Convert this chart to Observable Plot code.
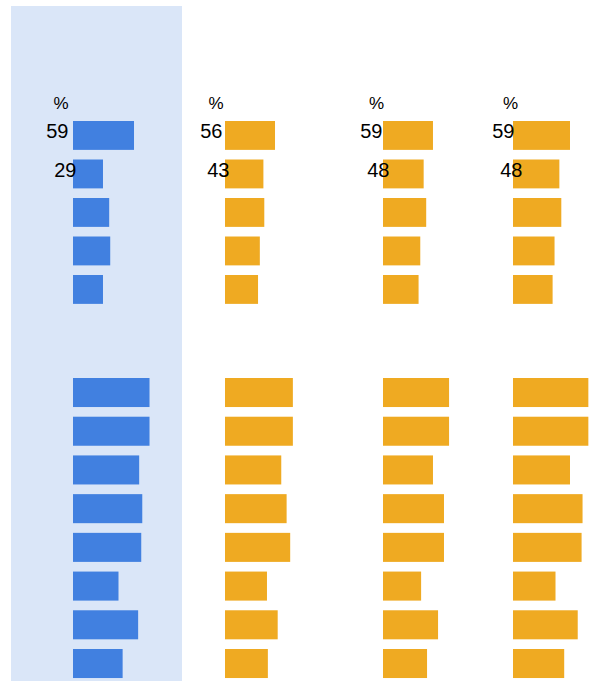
<!DOCTYPE html>
<html>
<head>
<meta charset="utf-8">
<script src="https://cdn.jsdelivr.net/npm/d3@7"></script>
<script src="https://cdn.jsdelivr.net/npm/@observablehq/plot@0.6"></script>
<style>
  html, body { margin: 0; padding: 0; background: #ffffff; overflow: hidden; }
  #chart { position: relative; width: 591px; height: 681px; font-family: "Liberation Sans", Arial, sans-serif; }
  #panel { position: absolute; left: 11px; top: 6px; width: 171px; height: 675px; background: #dae6f8; }
  #chart svg { position: absolute; }
</style>
</head>
<body>
<div id="chart"><div id="panel"></div></div>
<script>
// ---- data ----
const columns = ["Column 1", "Column 2", "Column 3", "Column 4"];
const topRows = ["Top 1", "Top 2", "Top 3", "Top 4", "Top 5"];
const bottomRows = ["Bottom 1", "Bottom 2", "Bottom 3", "Bottom 4", "Bottom 5", "Bottom 6", "Bottom 7", "Bottom 8"];
const unitLabel = "%";

const col1Top = [59, 29, 35, 36, 29];
const col2Top = [56, 43, 44, 39, 37];
const col3Top = [59, 48, 51, 44, 42];
const col4Top = [59, 48, 50, 43, 41];

const col1Bottom = [74, 74, 64, 67, 66, 44, 63, 48];
const col2Bottom = [76, 76, 63, 69, 73, 47, 59, 48];
const col3Bottom = [78, 78, 59, 72, 72, 45, 65, 52];
const col4Bottom = [78, 78, 59, 72, 71, 44, 67, 53];

const topSeries = [col1Top, col2Top, col3Top, col4Top];
const bottomSeries = [col1Bottom, col2Bottom, col3Bottom, col4Bottom];
const labelledRows = 2; // only the first two rows of the top group carry value labels

// ---- layout / style (not data) ----
const BLUE = "#4180e0", ORANGE = "#efaa22";
const layout = [
  {left: 33,  k: 1.034, color: BLUE,   pctDx: -12.5, labelDx: [-5, 3]},
  {left: 185, k: 0.893, color: ORANGE, pctDx: -9.5,  labelDx: [-3, 4]},
  {left: 343, k: 0.847, color: ORANGE, pctDx: -7,    labelDx: [-1, 6]},
  {left: 473, k: 0.966, color: ORANGE, pctDx: -3,    labelDx: [1, 9]}
];
const BAR0 = 40; // bar start inside each svg
const chart = document.getElementById("chart");

function place(svg, left, top) {
  svg.style.left = left + "px";
  svg.style.top = top + "px";
  chart.appendChild(svg);
}

columns.forEach((col, i) => {
  const L = layout[i];
  const width = Math.min(160, 591 - L.left);
  const topData = topRows.map((r, j) => ({column: col, row: r, value: topSeries[i][j]}));
  const bottomData = bottomRows.map((r, j) => ({column: col, row: r, value: bottomSeries[i][j]}));
  const xScale = {axis: null, domain: [0, 100], range: [BAR0, BAR0 + 100 * L.k]};
  const common = {
    width, margin: 0,
    style: {background: "transparent", overflow: "visible", color: "#000", fontFamily: "Liberation Sans, Arial, sans-serif"}
  };

  const topPlot = Plot.plot({
    ...common,
    height: 310,
    x: xScale,
    y: {axis: null, domain: topRows, range: [116.19, 308.69], paddingInner: 0.25, paddingOuter: 0.125, round: false},
    marks: [
      Plot.barX(topData, {x: "value", y: "row", fill: L.color}),
      Plot.text([unitLabel], {x: () => 0, frameAnchor: "top", lineAnchor: "bottom", dy: 108, dx: L.pctDx,
        textAnchor: "middle", fontSize: 17, fill: "#000"}),
      ...d3.range(labelledRows).map(j =>
        Plot.text([topData[j]], {x: () => 0, y: "row", text: d => String(d.value), textAnchor: "end",
          dx: L.labelDx[j], dy: -4, fontSize: 20, fill: "#000"}))
    ]
  });
  place(topPlot, L.left, 0);

  const bottomPlot = Plot.plot({
    ...common,
    height: 381,
    x: xScale,
    y: {axis: null, domain: bottomRows, range: [63.16, 372.87], paddingInner: 0.25, paddingOuter: 0.125, round: false},
    marks: [
      Plot.barX(bottomData, {x: "value", y: "row", fill: L.color})
    ]
  });
  place(bottomPlot, L.left, 310);
});
</script>
</body>
</html>
